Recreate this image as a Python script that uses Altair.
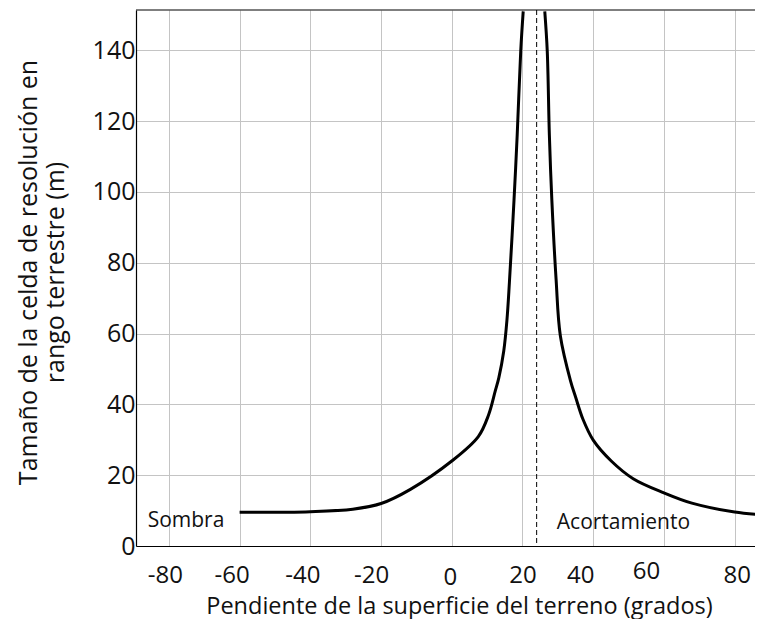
import altair as alt
import pandas as pd

# Curve (slope in degrees, ground-range cell size in m)
left_x = [-60, -40, -28, -20, -11.7, 0, 7.5, 10.4, 12.3, 13.3, 14.7, 15.6, 16.3, 17.6, 18.5, 19.5, 20.2]
left_y = [9.5, 9.7, 10.4, 12.0, 16.0, 24.0, 30.9, 37.0, 43.8, 47.5, 55.1, 63.8, 74.5, 97.7, 116.1, 139.8, 151.0]
right_x = [26.3, 27.0, 27.6, 28.3, 29.5, 30.7, 33.6, 35.1, 37.1, 40.0, 45.1, 51.3, 60.0, 67.9, 80.0, 88.3]
right_y = [151.0, 139.8, 116.0, 97.7, 75.3, 59.4, 46.6, 41.8, 35.8, 29.9, 24.0, 19.0, 15.0, 12.1, 9.6, 8.8]

x_ticks = [-80, -60, -40, -20, 0, 20, 40, 60, 80]
y_ticks = [0, 20, 40, 60, 80, 100, 120, 140]
dash_x = [24]

labels_text = ["Sombra", "Acortamiento"]
labels_x = [-86, 29.7]
labels_y = [7.1, 6.5]

x_domain = [-89.3, 85.75]
y_domain = [0, 151.4]

# hand-placed tick labels in the reference: (value, horizontal shift, vertical padding)
x_label_shift = {-80: -4, -60: -8, -40: -8, -20: -10, 0: -2, 40: -13, 60: -18, 80: 2}
x_label_pad = {0: 19.5, 60: 13}

FONT = "Open Sans"

curve = pd.DataFrame(
    {"x": left_x + right_x,
     "y": left_y + right_y,
     "branch": ["izq"] * len(left_x) + ["der"] * len(right_x)}
)
dash_df = pd.DataFrame({"x": dash_x})
text_df = pd.DataFrame({"t": labels_text, "x": labels_x, "y": labels_y})
top_df = pd.DataFrame({"y": [y_domain[1]]})

xscale = alt.Scale(domain=x_domain, nice=False, zero=False)
yscale = alt.Scale(domain=y_domain, nice=False, zero=False)

label_offset = {
    "condition": [{"test": f"datum.value == {k}", "value": v} for k, v in x_label_shift.items()],
    "value": 0,
}
label_pad = {
    "condition": [{"test": f"datum.value == {k}", "value": v} for k, v in x_label_pad.items()],
    "value": 17,
}

x_axis = alt.Axis(
    values=x_ticks, grid=True, ticks=False,
    labelPadding=label_pad, labelOffset=label_offset,
    labelExpr="'' + datum.value",
    labelFontSize=24, labelFont=FONT, labelColor="#111",
    title="Pendiente de la superficie del terreno (grados)",
    titleFont=FONT, titleFontSize=23.5, titleFontWeight="normal", titleColor="#111",
    titleX=323, titleY=60, titleBaseline="middle", titleAnchor="middle",
    domainColor="#000", domainWidth=1.2, labelFlush=False,
)
y_axis = alt.Axis(
    values=y_ticks, grid=True, ticks=False, labelPadding=1,
    labelFontSize=25, labelFont=FONT, labelColor="#111",
    title=["Tamaño de la celda de resolución en", "rango terrestre (m)"],
    titleFont=FONT, titleFontSize=25, titleFontWeight="normal", titleColor="#111",
    titleX=-108, titleY=262, titleBaseline="middle", titleAlign="center", titleAngle=270,
    titleLineHeight=27, domainColor="#000", domainWidth=1.2, labelFlush=False,
)

line = alt.Chart(curve).mark_line(
    color="#000", strokeWidth=3, interpolate="catmull-rom", clip=True
).encode(
    x=alt.X("x:Q", scale=xscale, axis=x_axis),
    y=alt.Y("y:Q", scale=yscale, axis=y_axis),
    detail="branch:N",
)

dash = alt.Chart(dash_df).mark_rule(
    color="#000", strokeWidth=1, strokeDash=[5, 3]
).encode(x=alt.X("x:Q", scale=xscale))

top = alt.Chart(top_df).mark_rule(color="#000", strokeWidth=1.2).encode(
    y=alt.Y("y:Q", scale=yscale)
)

texts = alt.Chart(text_df).mark_text(
    align="left", baseline="middle", font=FONT, fontSize=21, color="#111"
).encode(
    x=alt.X("x:Q", scale=xscale),
    y=alt.Y("y:Q", scale=yscale),
    text="t:N",
)

chart = alt.layer(dash, top, line, texts).properties(
    width=619, height=536,
    padding={"left": 128, "top": 2, "right": 0, "bottom": 73},
    autosize=alt.AutoSizeParams(type="none"),
    background="#ffffff",
).configure_view(
    stroke=None
).configure_axis(
    gridColor="#c4c4c4", gridWidth=1
)

chart.save("out.html", embed_options={"renderer": "svg", "actions": False})
